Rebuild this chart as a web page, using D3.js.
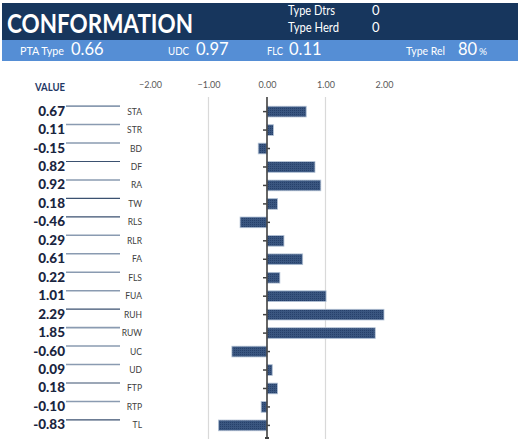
<!DOCTYPE html>
<html>
<head>
<meta charset="utf-8">
<script src="https://cdn.jsdelivr.net/npm/d3@7"></script>
<style>
  body { margin: 0; background: #fff; }
  svg { font-family: Lato, "Open Sans", sans-serif; }
</style>
</head>
<body>
<svg id="viz" width="520" height="447"></svg>
<script>
// chart data
var traits = ['STA', 'STR', 'BD', 'DF', 'RA', 'TW', 'RLS', 'RLR', 'FA', 'FLS',
  'FUA', 'RUH', 'RUW', 'UC', 'UD', 'FTP', 'RTP', 'TL'];
var values = [0.67, 0.11, -0.15, 0.82, 0.92, 0.18, -0.46, 0.29, 0.61, 0.22,
  1.01, 2.29, 1.85, -0.60, 0.09, 0.18, -0.10, -0.83];
var axisTicks = [-2, -1, 0, 1, 2];
var gridTicks = [-1, 1];

// header info
var topLabels = ['Type Dtrs', 'Type Herd'];
var topValues = ['0', '0'];
var summaryLabels = ['PTA Type', 'UDC', 'FLC', 'Type Rel'];
var summaryValues = ['0.66', '0.97', '0.11', '80'];

var rows = traits.map(function (t, i) { return { trait: t, value: values[i] }; });

var svg = d3.select('#viz');

// pattern for the bars (dotted fill)
var defs = svg.append('defs');
var pat = defs.append('pattern')
  .attr('id', 'dots')
  .attr('width', 2).attr('height', 2)
  .attr('patternUnits', 'userSpaceOnUse');
pat.append('rect').attr('width', 2).attr('height', 2).attr('fill', '#3a5680');
pat.append('rect').attr('width', 1).attr('height', 1).attr('fill', '#26406a');

// header bands
svg.append('rect').attr('x', 2).attr('y', 3).attr('width', 516).attr('height', 37).attr('fill', '#17365d');
svg.append('rect').attr('x', 2).attr('y', 40).attr('width', 516).attr('height', 21).attr('fill', '#558ed5');

svg.append('text')
  .attr('x', 7).attr('y', 33)
  .attr('fill', '#fff')
  .style('font-size', '26px')
  .style('font-weight', 'bold')
  .attr('textLength', 186)
  .attr('lengthAdjust', 'spacingAndGlyphs')
  .text('CONFORMATION');

var topLen = [47, 51];
topLabels.forEach(function (d, i) {
  svg.append('text').attr('x', 288).attr('y', 14.5 + i * 17)
    .attr('fill', '#fff').style('font-size', '13px')
    .attr('textLength', topLen[i]).attr('lengthAdjust', 'spacingAndGlyphs')
    .text(d);
  svg.append('text').attr('x', 372).attr('y', 14.5 + i * 17)
    .attr('fill', '#fff').style('font-size', '13px').text(topValues[i]);
});

var sumX = [[20, 71], [168, 196], [267, 289], [406, 458]];
var sumLen = [44, 21, 16, 39];
summaryLabels.forEach(function (d, i) {
  svg.append('text').attr('x', sumX[i][0]).attr('y', 55)
    .attr('fill', '#fff').style('font-size', '12px')
    .attr('textLength', sumLen[i]).attr('lengthAdjust', 'spacingAndGlyphs')
    .text(d);
  svg.append('text').attr('x', sumX[i][1]).attr('y', 55)
    .attr('fill', '#fff').style('font-size', '16.5px').text(summaryValues[i]);
});
svg.append('text').attr('x', 479).attr('y', 55)
  .attr('fill', '#fff').style('font-size', '10px').text('%');

// scales
var x = d3.scaleLinear().domain([-2, 2]).range([150, 384]).clamp(true);
var y = d3.scaleBand().domain(traits).range([98.5, 438.5]).padding(0.42);
var yTop = 97, yBot = 439;

// value column header
svg.append('text').attr('x', 35).attr('y', 91)
  .attr('fill', '#1f3864').style('font-size', '11px').style('font-weight', 'bold')
  .attr('textLength', 30).attr('lengthAdjust', 'spacingAndGlyphs')
  .text('VALUE');

// top axis labels
var xAxis = svg.append('g')
  .attr('transform', 'translate(0,' + 88 + ')')
  .call(d3.axisTop(x).tickValues(axisTicks).tickSize(0).tickFormat(d3.format('.2f')));
xAxis.select('.domain').remove();
xAxis.selectAll('text')
  .attr('dy', 0)
  .attr('y', 0)
  .style('font-family', 'Lato, "Open Sans", sans-serif')
  .style('font-size', '9px')
  .attr('fill', '#595959');

// gridlines
svg.selectAll('.grid')
  .data(gridTicks)
  .enter()
  .append('line')
  .attr('x1', function (d) { return x(d); })
  .attr('x2', function (d) { return x(d); })
  .attr('y1', yTop).attr('y2', yBot)
  .attr('stroke', '#d9d9d9')
  .attr('stroke-width', 1.2);

// tick marks on the zero axis
svg.selectAll('.ztick')
  .data(rows)
  .enter()
  .append('line')
  .attr('x1', x(0) - 4).attr('x2', x(0) + 3)
  .attr('y1', function (d) { return y(d.trait) + y.bandwidth() / 2; })
  .attr('y2', function (d) { return y(d.trait) + y.bandwidth() / 2; })
  .attr('stroke', '#404040')
  .attr('stroke-width', 1.5);

// bars (RUH runs past 2.00 and is cut at the axis end)
svg.selectAll('.bar')
  .data(rows)
  .enter()
  .append('rect')
  .attr('x', function (d) { return Math.min(x(0), x(d.value)); })
  .attr('width', function (d) { return Math.abs(x(d.value) - x(0)); })
  .attr('y', function (d) { return y(d.trait); })
  .attr('height', y.bandwidth())
  .attr('fill', 'url(#dots)')
  .attr('stroke', '#b4c3d6')
  .attr('stroke-width', 0.8);

// zero axis
svg.append('line')
  .attr('x1', x(0)).attr('x2', x(0))
  .attr('y1', yTop).attr('y2', yBot)
  .attr('stroke', '#404040')
  .attr('stroke-width', 1.6);
svg.append('line')
  .attr('x1', x(0) - 2).attr('x2', x(0) + 2)
  .attr('y1', yBot - 1).attr('y2', yBot - 1)
  .attr('stroke', '#404040')
  .attr('stroke-width', 2);

// rows whose little line is drawn darker in the picture
var darkLine = ['DF', 'TW', 'RLS', 'RUH', 'FTP', 'TL'];

// left side: values, lines, trait labels
var left = svg.selectAll('.row')
  .data(rows)
  .enter()
  .append('g')
  .attr('transform', function (d) { return 'translate(0,' + (y(d.trait) + y.bandwidth() / 2) + ')'; });

left.append('line')
  .attr('x1', 66).attr('x2', 120)
  .attr('y1', -5.5).attr('y2', -5.5)
  .attr('stroke', function (d) { return darkLine.indexOf(d.trait) >= 0 ? '#3b5170' : '#8a9bb1'; })
  .attr('stroke-width', function (d) { return darkLine.indexOf(d.trait) >= 0 ? 1.2 : 1.6; });

left.append('text')
  .attr('x', 65).attr('y', 4)
  .attr('text-anchor', 'end')
  .attr('fill', '#1a2540')
  .style('font-size', '13.5px')
  .style('font-weight', '900')
  .text(function (d) { return d.value.toFixed(2); });

left.append('text')
  .attr('x', 142).attr('y', 3)
  .attr('text-anchor', 'end')
  .attr('fill', '#404040')
  .style('font-size', '8.5px')
  .text(function (d) { return d.trait; });
</script>
</body>
</html>
